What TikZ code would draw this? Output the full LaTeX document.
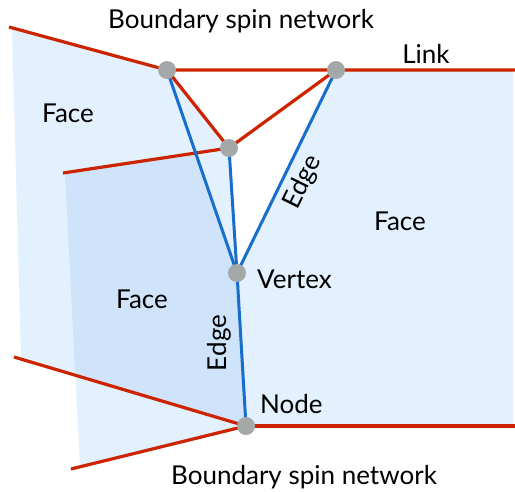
\documentclass[tikz,border=0pt]{standalone}
\usepackage{fontspec}
\setmainfont{Lato}
\usepackage{xcolor}
\usepackage{tikz}

\definecolor{linkred}{RGB}{204,36,0}
\definecolor{edgeblue}{RGB}{24,110,204}
\definecolor{dotgrey}{RGB}{164,168,168}
\definecolor{facelight}{RGB}{227,240,254}
\definecolor{facedark}{RGB}{207,228,250}

\tikzset{
  link/.style={draw=linkred, line width=3.2pt},
  edgeline/.style={draw=edgeblue, line width=3pt},
  dot/.style={circle, fill=dotgrey, minimum size=18pt, inner sep=0pt},
  lbl/.style={font=\fontsize{26}{30}\selectfont, inner sep=0pt, anchor=base}
}

\begin{document}
\begin{tikzpicture}[x=1pt, y=-1pt]
  \useasboundingbox (0,0) rectangle (515,491);

  % Punkte
  \coordinate (nodeTL) at (167,70);
  \coordinate (nodeTR) at (336,70);
  \coordinate (nodeMid) at (229,148);
  \coordinate (vtx) at (237,273);
  \coordinate (nodeBot) at (246,426);
  \coordinate (endTL) at (9,27);
  \coordinate (endMid) at (63,173);
  \coordinate (endBL) at (14,357);
  \coordinate (endBB) at (71,469);
  \coordinate (endTR) at (515,70);
  \coordinate (endBR) at (515,426);
  \coordinate (cross) at (intersection of nodeTL--vtx and nodeMid--endMid);

  % Faces
  \fill[facelight] (12,28) -- (nodeTL) -- (nodeMid) -- (vtx) -- (nodeBot) -- (21,359) -- cycle;
  \fill[facelight] (nodeTR) -- (513,70) -- (513,426) -- (nodeBot) -- (vtx) -- cycle;
  \fill[facelight] (65,174) -- (cross) -- (vtx) -- (nodeBot) -- (80,466) -- cycle;
  \begin{scope}
    \clip (12,28) -- (nodeTL) -- (nodeMid) -- (vtx) -- (nodeBot) -- (21,359) -- cycle;
    \fill[facedark] (65,174) -- (cross) -- (vtx) -- (nodeBot) -- (80,466) -- cycle;
  \end{scope}

  % Links
  \draw[link] (endTL) -- (nodeTL) -- (endTR);
  \draw[link] (nodeTL) -- (nodeMid) -- (nodeTR);
  \draw[link] (endMid) -- (nodeMid);
  \draw[link] (endBL) -- (nodeBot) -- (endBB);
  \draw[link] (nodeBot) -- (endBR);

  % Edges
  \draw[edgeline] (nodeTL) -- (vtx);
  \draw[edgeline] (nodeMid) -- (vtx);
  \draw[edgeline] (nodeTR) -- (vtx);
  \draw[edgeline] (vtx) -- (nodeBot);

  % Knoten
  \foreach \p in {nodeTL,nodeTR,nodeMid,vtx,nodeBot}
    \node[dot] at (\p) {};

  % Beschriftungen
  \node[lbl] (bsnTop) at (241,28) {Boundary spin network};
  \node[lbl] (bsnBot) at (304,484) {Boundary spin network};
  \node[lbl] (linkLbl) at (426,63) {Link};
  \node[lbl] (faceL) at (68,122) {Face};
  \node[lbl] (faceR) at (400,230) {Face};
  \node[lbl] (faceM) at (142,308) {Face};
  \node[lbl, anchor=base west] (vtxLbl) at (257,288) {Vertex};
  \node[lbl, anchor=base west] (nodeLbl) at (260,413) {Node};
  \node[lbl, anchor=center, rotate=90] (edgeV) at (219,343) {Edge};
  \node[lbl, anchor=center, rotate=63.8] (edgeD) at (303,182) {Edge};
\end{tikzpicture}
\end{document}
